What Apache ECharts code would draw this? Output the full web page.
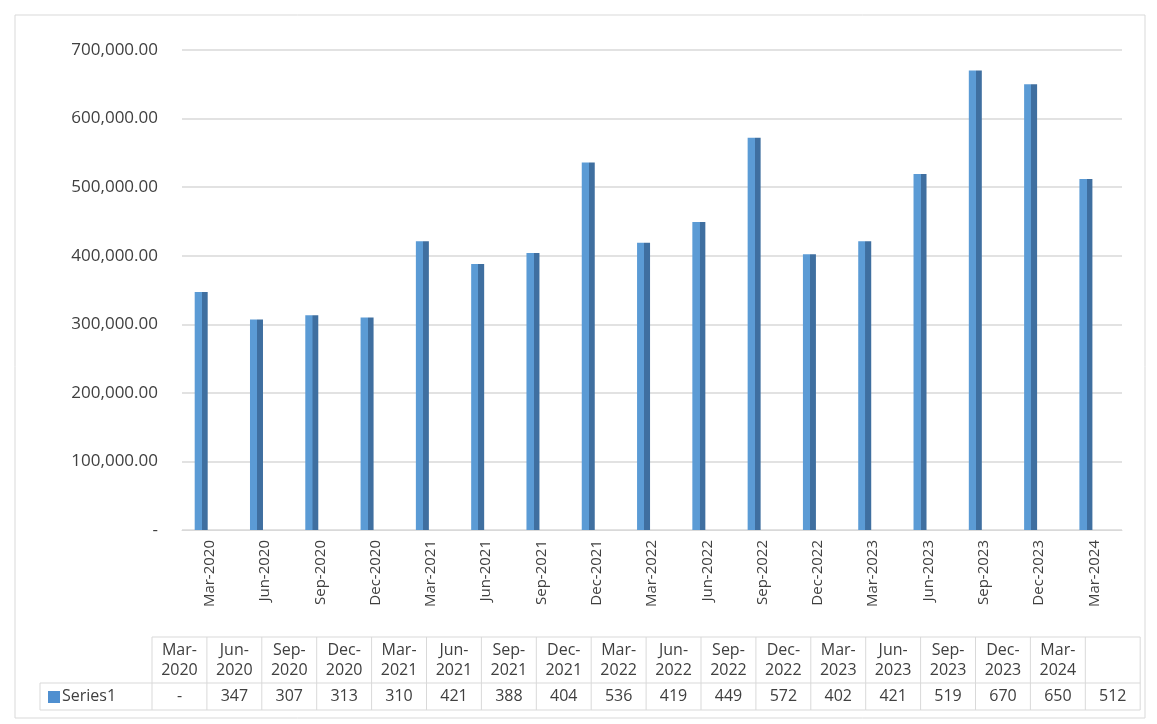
<!DOCTYPE html>
<html><head><meta charset="utf-8">
<script src="https://cdn.jsdelivr.net/npm/echarts@6/dist/echarts.min.js"></script>
<style>html,body{margin:0;padding:0;background:#fff}#c{width:1157px;height:724px}</style>
</head><body><div id="c"></div>
<script>
const categories = ['Mar-2020','Jun-2020','Sep-2020','Dec-2020','Mar-2021','Jun-2021','Sep-2021','Dec-2021','Mar-2022','Jun-2022','Sep-2022','Dec-2022','Mar-2023','Jun-2023','Sep-2023','Dec-2023','Mar-2024'];
const values = [347000,307000,313000,310000,421000,388000,404000,536000,419000,449000,572000,402000,421000,519000,670000,650000,512000];
// the data table in the source is shifted by one column
const tableValues = ['-','347','307','313','310','421','388','404','536','419','449','572','402','421','519','670','650','512'];
const seriesName = 'Series1';

const chart = echarts.init(document.getElementById('c'));
const font = '"Open Sans", "DejaVu Sans", sans-serif';

// data table via graphic
const tx = 152, ty = 637, colW = 54.9, h1 = 46, h2 = 27, nCols = tableValues.length;
const g = [];
const line = (x1, y1, x2, y2) => g.push({type:'line', shape:{x1,y1,x2,y2}, style:{stroke:'#d9d9d9', lineWidth:1}});
const right = tx + colW * nCols;
line(tx, ty, right, ty);
line(40, ty + h1, right, ty + h1);
line(40, ty + h1 + h2, right, ty + h1 + h2);
line(40, ty + h1, 40, ty + h1 + h2);
for (let i = 0; i <= nCols; i++) line(tx + colW * i, ty, tx + colW * i, ty + h1 + h2);
categories.forEach((c, i) => {
  const p = c.split('-');
  g.push({type:'text', x: tx + colW * i + colW / 2, y: ty + h1 / 2,
    style:{text: p[0] + '-\n' + p[1], align:'center', verticalAlign:'middle', font:'16px ' + font, fill:'#404040', lineHeight:20}});
});
tableValues.forEach((v, i) => {
  g.push({type:'text', x: tx + colW * i + colW / 2, y: ty + h1 + h2 / 2,
    style:{text: v, align:'center', verticalAlign:'middle', font:'16px ' + font, fill:'#404040'}});
});
g.push({type:'rect', shape:{x:48, y:ty + h1 + 8, width:12, height:12}, style:{fill:'#4f8fd0'}});
g.push({type:'text', x:62, y: ty + h1 + h2 / 2, style:{text: seriesName, verticalAlign:'middle', font:'16px ' + font, fill:'#404040'}});
g.push({type:'rect', shape:{x:15, y:15, width:1130, height:703}, style:{fill:'none', stroke:'#d9d9d9', lineWidth:1}});

chart.setOption({
  animation: false,
  grid: {left: 182, right: 35, top: 50, bottom: 194},
  xAxis: {
    type: 'category', data: categories,
    axisLine: {lineStyle: {color: '#d9d9d9'}}, axisTick: {show: false},
    axisLabel: {rotate: 90, color: '#404040', fontSize: 15, fontFamily: font, margin: 10}
  },
  yAxis: {
    type: 'value', min: 0, max: 700000, interval: 100000,
    axisLine: {show: false}, axisTick: {show: false},
    splitLine: {lineStyle: {color: '#d9d9d9', width: 1.5}},
    axisLabel: {color: '#404040', fontSize: 17, fontFamily: font, margin: 24,
      formatter: v => v === 0 ? '-' : v.toLocaleString('en-US', {minimumFractionDigits: 2, maximumFractionDigits: 2})}
  },
  series: [{
    name: seriesName, type: 'bar', data: values, barWidth: 13, barGap: '30%',
    itemStyle: {color: new echarts.graphic.LinearGradient(0, 0, 1, 0, [
      {offset: 0, color: '#5b9bd5'}, {offset: 0.55, color: '#5b9bd5'},
      {offset: 0.56, color: '#3f6fa0'}, {offset: 1, color: '#3f6fa0'}])}
  }, {
    name: 'pad', type: 'bar', data: values.map(() => 0), barWidth: 13, silent: true,
    itemStyle: {color: 'transparent'}
  }],
  graphic: g
});
</script></body></html>
